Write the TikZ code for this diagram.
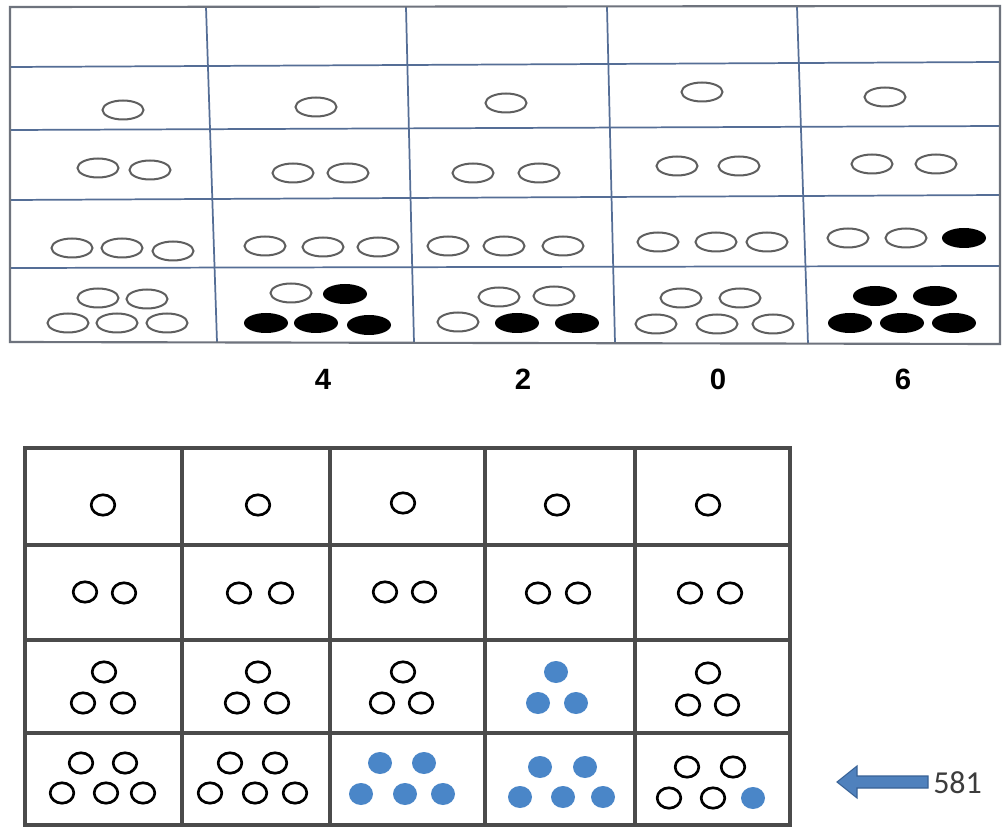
\documentclass[tikz,border=0pt]{standalone}
\usepackage{fontspec}
\setmainfont{Liberation Sans}
\newfontfamily\carlfont{Carlito}
\definecolor{gridblue}{RGB}{85,110,150}
\definecolor{framegray}{RGB}{110,115,125}
\definecolor{ovalgray}{RGB}{95,95,95}
\definecolor{botgrid}{RGB}{75,75,75}
\definecolor{dotblue}{RGB}{74,134,200}
\definecolor{arrowfill}{RGB}{79,129,189}
\definecolor{arrowline}{RGB}{56,98,150}
\definecolor{txtgray}{RGB}{60,60,60}
\tikzset{
  topgrid/.style={draw=gridblue,line width=1.3pt},
  topframe/.style={draw=framegray,line width=1.6pt},
  topopen/.style={draw=ovalgray,line width=1.5pt},
  topfill/.style={fill=black},
  botline/.style={draw=botgrid,line width=2.6pt},
  botopen/.style={draw=black,line width=2pt},
  botblue/.style={fill=dotblue},
  numlab/.style={font=\fontsize{22}{26}\selectfont\bfseries,inner sep=0pt},
  arrowshape/.style={fill=arrowfill,draw=arrowline,line width=0.8pt},
}
\newcommand\tO[2]{\draw[topopen] (#1,#2) ellipse (20.5 and 9.5);}
\newcommand\tF[2]{\fill[topfill] (#1,#2) ellipse (22 and 10);}
\newcommand\bO[2]{\draw[botopen] (#1,#2) ellipse (11.8 and 10.2);}
\newcommand\bB[2]{\fill[botblue] (#1,#2) ellipse (12 and 11);}
\begin{document}
\begin{tikzpicture}[x=0.75pt,y=-0.75pt]
\useasboundingbox (0,0) rectangle (1004,827);
\fill[white] (0,0) rectangle (1004,827);
% ---------------- top table ----------------
\draw[topgrid] (10,67)--(1000,62);
\draw[topgrid] (10,130)--(1000,126);
\draw[topgrid] (10,200)--(1000,195);
\draw[topgrid] (10,268)--(1000,266);
\draw[topgrid] (206,7)--(217,342);
\draw[topgrid] (406,7)--(414,343);
\draw[topgrid] (607,7)--(615,343);
\draw[topgrid] (797,7)--(808,344);
\draw[topframe] (10,7)--(1000,6)--(1000,344)--(10,342)--cycle;
% row 2
\tO{123}{110} \tO{316}{107} \tO{506}{103} \tO{702}{92} \tO{885}{97}
% row 3
\tO{98}{168} \tO{150}{170}
\tO{293}{173} \tO{348}{173}
\tO{473}{173} \tO{539}{173}
\tO{677}{166} \tO{739}{166}
\tO{872}{164} \tO{936}{164}
% row 4
\tO{72}{248} \tO{122}{248} \tO{173}{251}
\tO{265}{246} \tO{323}{247} \tO{378}{247}
\tO{448}{246} \tO{504}{246} \tO{563}{246}
\tO{658}{242} \tO{716}{242} \tO{767}{242}
\tO{848}{238} \tO{906}{238} \tF{964}{238}
% row 5
\tO{98}{298} \tO{147}{299} \tO{68}{323} \tO{117}{323} \tO{167}{323}
\tO{291}{293} \tF{345}{294} \tF{266}{323} \tF{316}{323} \tF{369}{325}
\tO{499}{297} \tO{554}{296} \tO{458}{322} \tF{517}{323} \tF{577}{323}
\tO{681}{298} \tO{740}{298} \tO{656}{324} \tO{717}{324} \tO{773}{324}
\tF{875}{296} \tF{935}{296} \tF{850}{323} \tF{902}{323} \tF{954}{323}
% numbers
\node[numlab] (n4) at (323,379) {4};
\node[numlab] (n2) at (523,379) {2};
\node[numlab] (n0) at (718,379) {0};
\node[numlab] (n6) at (903,379) {6};
% ---------------- bottom table ----------------
\foreach \yy in {545,640,733} \draw[botline] (25,\yy)--(790,\yy);
\foreach \xx in {182,330,485,635} \draw[botline] (\xx,448)--(\xx,825);
\draw[botline] (25,448) rectangle (790,825);
% row 1
\bO{103}{505} \bO{258}{505} \bO{403}{503} \bO{557}{505} \bO{708}{505}
% row 2
\bO{85}{592} \bO{124}{593}
\bO{239}{593} \bO{281}{593}
\bO{385}{592} \bO{424}{592}
\bO{538}{593} \bO{578}{593}
\bO{690}{593} \bO{730}{593}
% row 3
\bO{104}{672} \bO{83}{703} \bO{123}{703}
\bO{258}{672} \bO{237}{703} \bO{277}{703}
\bO{403}{672} \bO{382}{703} \bO{421}{703}
\bB{556}{672} \bB{538}{703} \bB{576}{703}
\bO{708}{673} \bO{688}{705} \bO{727}{705}
% row 4
\bO{81}{763} \bO{125}{763} \bO{62}{793} \bO{106}{793} \bO{143}{793}
\bO{230}{763} \bO{275}{763} \bO{210}{793} \bO{255}{793} \bO{295}{793}
\bB{380}{763} \bB{424}{763} \bB{361}{794} \bB{405}{794} \bB{443}{794}
\bB{540}{767} \bB{585}{767} \bB{520}{797} \bB{563}{797} \bB{603}{797}
\bO{687}{767} \bO{733}{767} \bO{669}{798} \bO{713}{798} \bB{753}{798}
% arrow and label
\node[font=\carlfont\fontsize{24}{28}\selectfont,text=txtgray,inner sep=0pt,anchor=west] (lab) at (933,783) {581};
\coordinate (tip) at (837,782);
\draw[arrowshape] (tip)--(857,766)--(857,776)--(928,776)--(928,788)--(857,788)--(857,798)--cycle;
\end{tikzpicture}
\end{document}
